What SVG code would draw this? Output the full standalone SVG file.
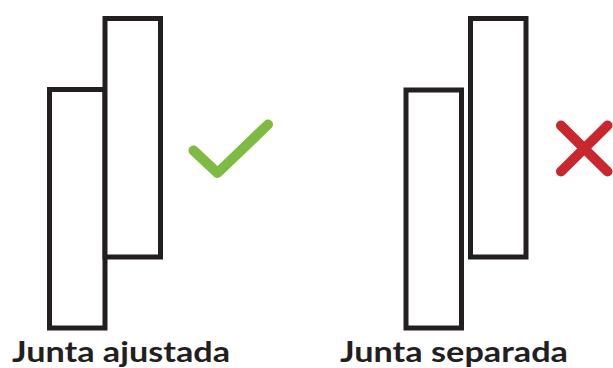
<svg xmlns="http://www.w3.org/2000/svg" width="613" height="368" viewBox="0 0 613 368">
<style>
.board{fill:#fff;stroke:#231f20;stroke-width:5}
.lbl{font-family:Lato,"Noto Sans","Liberation Sans",sans-serif;font-weight:bold;font-size:28px;fill:#231f20}
.mark{fill:none;stroke-width:10;stroke-linecap:round;stroke-linejoin:round}
</style>
<rect width="613" height="368" fill="#fff"/>
<g id="ajustada">
<rect class="board" x="49.5" y="89.5" width="55.5" height="238.5"/>
<rect class="board" x="105" y="18.5" width="55.5" height="238.5"/>
<text class="lbl" x="12" y="362" textLength="218" lengthAdjust="spacingAndGlyphs">Junta ajustada</text>
</g>
<g id="check">
<polyline class="mark" stroke="#7dbb42" points="193.5,150.5 217.5,173 268,124.5"/>
</g>
<g id="separada">
<rect class="board" x="406" y="90" width="55.5" height="238"/>
<rect class="board" x="470.5" y="18.5" width="55.5" height="238.5"/>
<text class="lbl" x="340" y="362" textLength="228" lengthAdjust="spacingAndGlyphs">Junta separada</text>
</g>
<g id="cross">
<path class="mark" stroke="#c8272e" d="M561,125.5 L607.5,171.5 M607.5,125.5 L561,171.5"/>
</g>
</svg>
